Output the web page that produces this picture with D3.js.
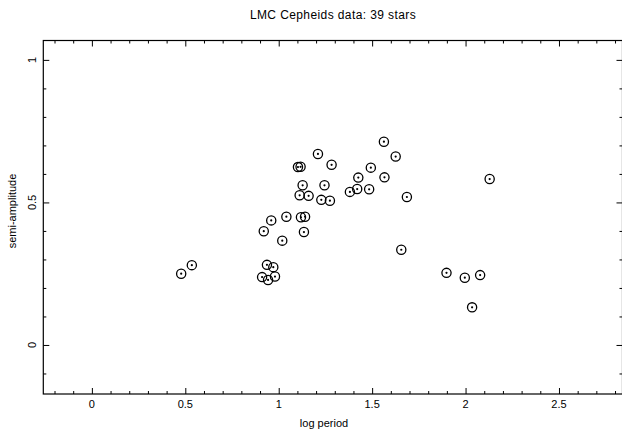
<!DOCTYPE html>
<html>
<head>
<meta charset="UTF-8">
<title>LMC Cepheids</title>
<script src="https://cdn.jsdelivr.net/npm/d3@7"></script>
<style>
  body { margin: 0; background: #fff; }
  text { font-family: "Liberation Sans", Arial, sans-serif; fill: #000; }
</style>
</head>
<body>
<div id="chart"></div>
<script>
// log period of each star
const logPeriod = [0.478, 0.535, 0.911, 0.920, 0.937, 0.943, 0.960, 0.971, 0.980, 1.019,
  1.041, 1.112, 1.103, 1.117, 1.119, 1.128, 1.135, 1.141, 1.160, 1.210,
  1.228, 1.245, 1.274, 1.283, 1.381, 1.420, 1.426, 1.484, 1.493, 1.563,
  1.566, 1.626, 1.656, 1.686, 1.898, 1.996, 2.035, 2.078, 2.129];
// semi-amplitude of each star
const semiAmp = [0.250, 0.280, 0.238, 0.399, 0.281, 0.228, 0.437, 0.273, 0.240, 0.366,
  0.450, 0.525, 0.624, 0.625, 0.448, 0.560, 0.396, 0.450, 0.523, 0.670,
  0.509, 0.560, 0.506, 0.632, 0.537, 0.547, 0.587, 0.546, 0.622, 0.713,
  0.588, 0.661, 0.334, 0.519, 0.253, 0.236, 0.132, 0.245, 0.582];
const xMajor = [0, 0.5, 1, 1.5, 2, 2.5];
const yMajor = [0, 0.5, 1];

const width = 622, height = 432;
const mLeft = 43.3, mRight = 622.5, mTop = 40.5, mBottom = 394;

const svg = d3.select("#chart").append("svg")
  .attr("width", width)
  .attr("height", height);

const x = d3.scaleLinear().domain([-0.26, 2.84]).range([mLeft, mRight]);
const y = d3.scaleLinear().domain([-0.172, 1.068]).range([mBottom, mTop]);

const xMinor = d3.range(-2, 29).map(d => d / 10).filter(d => !xMajor.some(m => Math.abs(m - d) < 1e-9));
const yMinor = d3.range(-1, 11).map(d => d / 10).filter(d => !yMajor.some(m => Math.abs(m - d) < 1e-9));

function tickAxis(axis, vals, size, transform) {
  const g = svg.append("g")
    .attr("transform", transform)
    .call(axis.tickValues(vals).tickSize(size).tickFormat(""));
  g.select(".domain").remove();
  g.selectAll("line").attr("stroke", "#000").attr("stroke-width", 1);
  return g;
}

// bottom / top ticks, pointing inward
tickAxis(d3.axisBottom(x), xMajor, -6, `translate(0,${mBottom})`);
tickAxis(d3.axisBottom(x), xMinor, -3, `translate(0,${mBottom})`);
tickAxis(d3.axisTop(x), xMajor, -6, `translate(0,${mTop})`);
tickAxis(d3.axisTop(x), xMinor, -3, `translate(0,${mTop})`);
// left / right ticks
tickAxis(d3.axisLeft(y), yMajor, -6, `translate(${mLeft},0)`);
tickAxis(d3.axisLeft(y), yMinor, -3, `translate(${mLeft},0)`);
tickAxis(d3.axisRight(y), yMajor, -6, `translate(${mRight},0)`);
tickAxis(d3.axisRight(y), yMinor, -3, `translate(${mRight},0)`);

svg.append("rect")
  .attr("x", mLeft).attr("y", mTop)
  .attr("width", mRight - mLeft).attr("height", mBottom - mTop)
  .attr("fill", "none").attr("stroke", "#000").attr("stroke-width", 1.2);

// tick labels
svg.append("g").selectAll("text")
  .data(xMajor)
  .join("text")
  .attr("x", d => x(d))
  .attr("y", 408)
  .attr("text-anchor", "middle")
  .attr("font-size", "11px")
  .text(d => d);

svg.append("g").selectAll("text")
  .data(yMajor)
  .join("text")
  .attr("transform", d => `translate(36,${y(d)}) rotate(-90)`)
  .attr("text-anchor", "middle")
  .attr("font-size", "11px")
  .text(d => d);

// titles
svg.append("text")
  .attr("x", 333).attr("y", 19)
  .attr("text-anchor", "middle")
  .attr("font-size", "12px")
  .attr("letter-spacing", "0.4px")
  .text("LMC Cepheids data: 39 stars");

svg.append("text")
  .attr("x", 324).attr("y", 427)
  .attr("text-anchor", "middle")
  .attr("font-size", "11px")
  .text("log period");

svg.append("text")
  .attr("transform", `translate(16,211) rotate(-90)`)
  .attr("text-anchor", "middle")
  .attr("font-size", "11px")
  .text("semi-amplitude");

// points: circle with centre dot
const pts = logPeriod.map((d, i) => ({ lp: d, amp: semiAmp[i] }));
const g = svg.append("g");
g.selectAll("circle.ring")
  .data(pts)
  .join("circle")
  .attr("class", "ring")
  .attr("cx", d => x(d.lp))
  .attr("cy", d => y(d.amp))
  .attr("r", 4.6)
  .attr("fill", "none")
  .attr("stroke", "#000")
  .attr("stroke-width", 1.3);
g.selectAll("circle.dot")
  .data(pts)
  .join("circle")
  .attr("class", "dot")
  .attr("cx", d => x(d.lp))
  .attr("cy", d => y(d.amp))
  .attr("r", 1.1)
  .attr("fill", "#000");
</script>
</body>
</html>
